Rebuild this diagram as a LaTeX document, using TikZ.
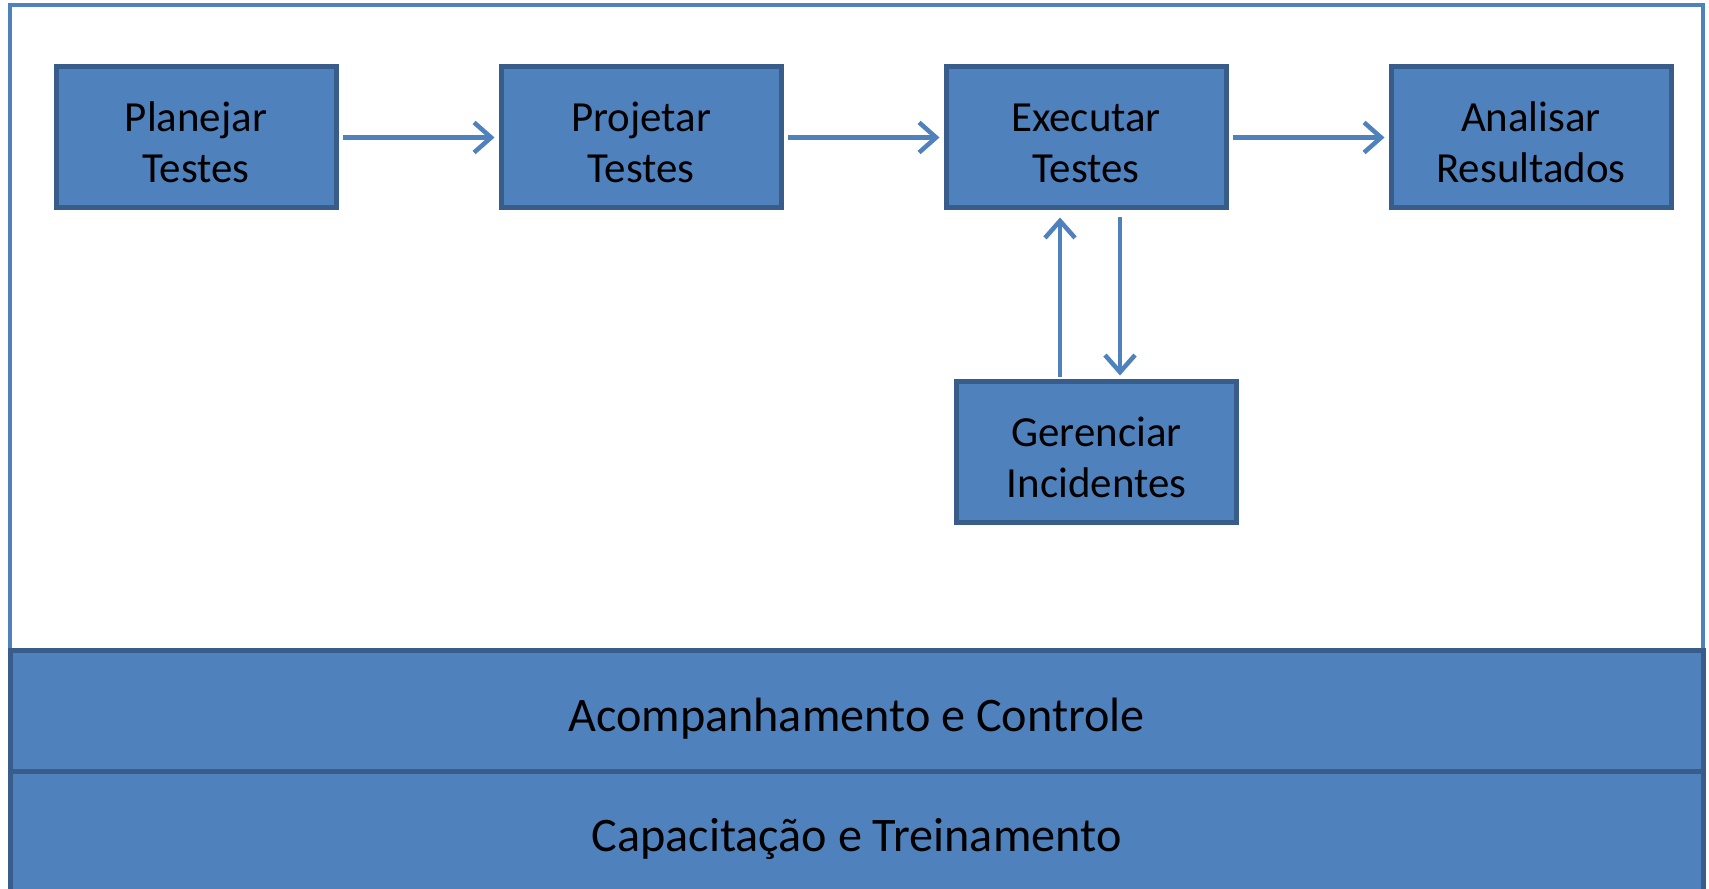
\documentclass[tikz,border=0pt]{standalone}
\usepackage{fontspec}
\setmainfont{Carlito}
\usetikzlibrary{arrows.meta}
\definecolor{azul}{HTML}{4F81BD}
\definecolor{azulesc}{HTML}{385D8A}
\newlength{\unitpx}
\setlength{\unitpx}{0.01cm}
\tikzset{
  caixa/.style={draw=azulesc, line width=5\unitpx, fill=azul, minimum width=280\unitpx,
    minimum height=141\unitpx, align=center, inner sep=0pt, font=\fontsize{12.2}{14.5}\selectfont},
  barra/.style={draw=azulesc, line width=5\unitpx, fill=azul},
  rotulo/.style={font=\fontsize{13.7}{16}\selectfont},
  seta/.style={draw=azul, line width=4.5\unitpx, -{Straight Barb[length=0.17cm, width=0.30cm, line width=0.045cm]}}
}
\begin{document}
\begin{tikzpicture}[x=0.01cm, y=-0.01cm]
            \useasboundingbox (0,0) rectangle (1709,889);
            \fill[white] (0,0) rectangle (1709,889);
            \draw[azul, line width=4.5\unitpx] (10,5) rectangle (1703,900);
            \draw[barra] (10,651) rectangle (1703,772);
            \draw[barra] (10,772) rectangle (1703,900);
            \node[rotulo] (acomp) at (856.5,719) {Acompanhamento e Controle};
            \node[rotulo] (capac) at (856.5,839) {Capacitação e Treinamento};
            \node[caixa] (plan) at (196,137.5) {\rule{0pt}{0.39cm}Planejar\\Testes};
            \node[caixa] (proj) at (641,137.5) {\rule{0pt}{0.39cm}Projetar\\Testes};
            \node[caixa] (exec) at (1086,137.5) {\rule{0pt}{0.39cm}Executar\\Testes};
            \node[caixa] (anal) at (1531,137.5) {\rule{0pt}{0.39cm}Analisar\\Resultados};
            \node[caixa] (ger) at (1096.5,452.5) {\rule{0pt}{0.39cm}Gerenciar\\Incidentes};
            \draw[seta, shorten <=0.04cm, shorten >=0.04cm] (plan) -- (proj);
            \draw[seta, shorten <=0.04cm, shorten >=0.04cm] (proj) -- (exec);
            \draw[seta, shorten <=0.04cm, shorten >=0.04cm] (exec) -- (anal);
            \coordinate (sobe) at (1060,0);
            \coordinate (desce) at (1120,0);
            \draw[seta, shorten <=0.02cm, shorten >=0.07cm] (sobe |- ger.north) -- (sobe |- exec.south);
            \draw[seta, shorten <=0.07cm, shorten >=0.04cm] (desce |- exec.south) -- (desce |- ger.north);
        \end{tikzpicture}
\end{document}
